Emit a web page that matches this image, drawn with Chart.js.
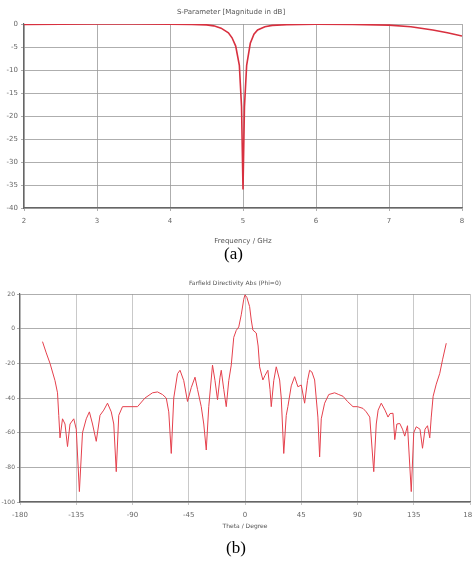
<!DOCTYPE html>
<html>
<head>
<meta charset="utf-8">
<script src="https://cdn.jsdelivr.net/npm/chart.js@4/dist/chart.umd.min.js"></script>
<style>
  html, body { margin: 0; padding: 0; background: #fff; width: 472px; height: 562px; overflow: hidden; }
  .box { position: absolute; left: 0; width: 472px; }
  #boxA { top: 0; height: 245px; }
  #boxB { top: 268px; height: 262px; }
  .cap { position: absolute; font-family: "Liberation Serif", "DejaVu Serif", serif; font-size: 17px; color: #000; }
</style>
</head>
<body>
<div class="box" id="boxA"><canvas id="chartA" width="472" height="245"></canvas></div>
<div class="cap" style="left:224px; top:244px;">(a)</div>
<div class="box" id="boxB"><canvas id="chartB" width="472" height="262"></canvas></div>
<div class="cap" style="left:226px; top:538px;">(b)</div>
<script>
// ---- Chart (a): S-parameter magnitude ----
const freqGHz = [2.0, 2.5, 3.0, 3.5, 4.0, 4.3, 4.5, 4.6, 4.7, 4.8, 4.85, 4.9, 4.95, 4.98, 5.0, 5.02, 5.05, 5.1, 5.15, 5.2, 5.3, 5.4, 5.6, 6.0, 6.5, 7.0, 7.3, 7.6, 7.8, 8.0];
const s11dB   = [-0.1, -0.05, 0, 0, -0.05, -0.1, -0.2, -0.4, -0.9, -1.9, -3.0, -4.8, -9.0, -18, -36, -18, -9.0, -4.2, -2.2, -1.3, -0.6, -0.3, -0.15, -0.05, -0.1, -0.25, -0.6, -1.3, -1.9, -2.6];
const freqTicks = [2, 3, 4, 5, 6, 7, 8];
const s11Ticks = [0, -5, -10, -15, -20, -25, -30, -35, -40];

// ---- Chart (b): farfield directivity ----
const thetaDeg = [-162, -159, -156, -152, -150, -149, -148, -146, -144, -142, -140, -137, -135, -132.5, -130, -127, -124.5, -122, -119, -116, -113, -110, -107, -105, -103, -101, -98, -92, -86, -80, -74, -70, -66, -63, -61, -59, -57, -54, -52, -49, -46, -43, -40, -38, -35, -33, -31, -29, -26, -24, -22, -20, -19, -17, -15, -13, -11, -9, -7, -5, -3, -1, 0, 1.5, 3.7, 5, 6.3, 9, 10.5, 11.7, 14.3, 16, 18.3, 20, 21, 23, 25, 27.7, 29, 31, 33, 34.3, 37, 39.7, 42.3, 45, 47.7, 50, 51.7, 53.5, 55.7, 58.3, 59.7, 61, 63.7, 67, 71.7, 75, 78.4, 82, 86.4, 90, 94.4, 97, 99.8, 103, 105, 106.5, 109, 112, 114.4, 116, 118.4, 119.8, 121.5, 123.8, 126, 127.8, 130, 133, 135, 137, 140, 142, 144, 146, 147.8, 149, 150.5, 153, 155.8, 158, 161];
const dirdBi   = [-7.5, -14, -20, -30, -37, -50, -63, -52, -55, -68, -55, -52, -58, -94, -60, -52, -48, -55, -65, -50, -47, -43, -48, -55, -82.5, -50, -45, -45, -45, -40, -37, -36.5, -38, -40, -48, -72, -40, -26, -24, -30, -42, -34, -28, -35, -45, -55, -70, -45, -21, -30, -41, -28, -24, -35, -45, -30, -21, -5, -1, 1, 8, 17, 19.5, 18, 12.7, 5, -0.8, -2.5, -10, -22, -29.6, -27, -24, -35, -45, -30, -22, -29.6, -40, -72, -50, -45, -33, -27.7, -33.5, -32.5, -43, -30, -24, -25, -29.6, -51, -74, -52, -43, -38, -37, -38, -39, -42, -45, -45, -46, -48, -51, -82.5, -55, -47, -43, -47, -51, -49, -48.8, -64, -55, -54.7, -58, -62, -56, -94, -60, -56.6, -58, -69, -58, -56, -63, -51, -39, -32, -25.8, -18, -8.4];
const thetaTicks = [-180, -135, -90, -45, 0, 45, 90, 135, 180];
const dirTicks = [20, 0, -20, -40, -60, -80, -100];

const tickFont = { family: "DejaVu Sans", size: 7 };
const tickColor = '#666';

const chartA = new Chart(document.getElementById('chartA'), {
  type: 'line',
  data: {
    datasets: [{
      data: freqGHz.map((f, i) => ({ x: f, y: s11dB[i] })),
      borderColor: '#d8303f',
      borderWidth: 1.6,
      pointRadius: 0,
      tension: 0,
      fill: false
    }]
  },
  options: {
    responsive: false,
    animation: false,
    events: [],
    layout: { padding: { left: 0, right: 10, top: 0, bottom: 0 } },
    plugins: {
      legend: { display: false },
      tooltip: { enabled: false },
      title: {
        display: true,
        text: 'S-Parameter [Magnitude in dB]',
        color: '#555',
        font: { family: "DejaVu Sans", size: 7, weight: 'normal' },
        padding: { top: 8, bottom: 7.6 }
      }
    },
    scales: {
      x: {
        type: 'linear', min: 2, max: 8,
        afterBuildTicks: (s) => { s.ticks = freqTicks.map(v => ({ value: v })); },
        afterFit: (s) => { s.height = 37; },
        ticks: { font: tickFont, color: tickColor, padding: 6 },
        grid: { color: '#999', lineWidth: 0.8, drawTicks: true, tickLength: 3 },
        border: { color: '#666', width: 1.2 },
        title: { display: true, text: 'Frequency / GHz', color: '#555', font: tickFont, padding: { top: 0, bottom: 0 } }
      },
      y: {
        type: 'linear', min: -40, max: 0,
        afterBuildTicks: (s) => { s.ticks = s11Ticks.map(v => ({ value: v })); },
        afterFit: (s) => { s.width = 24; },
        ticks: { font: tickFont, color: tickColor, padding: 3 },
        grid: { color: '#999', lineWidth: 0.8, tickLength: 3 },
        border: { color: '#666', width: 1.2 }
      }
    }
  }
});

const chartB = new Chart(document.getElementById('chartB'), {
  type: 'line',
  data: {
    datasets: [{
      data: thetaDeg.map((t, i) => ({ x: t, y: dirdBi[i] })),
      borderColor: '#e5404c',
      borderWidth: 1,
      pointRadius: 0,
      tension: 0,
      fill: false
    }]
  },
  options: {
    responsive: false,
    animation: false,
    events: [],
    layout: { padding: { left: 0, right: 2, top: 0, bottom: 0 } },
    plugins: {
      legend: { display: false },
      tooltip: { enabled: false },
      title: {
        display: true,
        text: 'Farfield Directivity Abs (Phi=0)',
        color: '#555',
        font: { family: "DejaVu Sans", size: 6, weight: 'normal' },
        padding: { top: 12, bottom: 6.8 }
      }
    },
    scales: {
      x: {
        type: 'linear', min: -180, max: 180,
        afterBuildTicks: (s) => { s.ticks = thetaTicks.map(v => ({ value: v })); },
        afterFit: (s) => { s.height = 28; s.paddingRight = 0; s.paddingLeft = 0; },
        ticks: { font: tickFont, color: tickColor, padding: 6 },
        grid: { color: '#bbb', lineWidth: 0.8, tickLength: 3 },
        border: { color: '#666', width: 1.2 },
        title: { display: true, text: 'Theta / Degree', color: '#555', font: { family: "DejaVu Sans", size: 6 }, padding: { top: 0, bottom: 0 } }
      },
      y: {
        type: 'linear', min: -100, max: 20,
        afterBuildTicks: (s) => { s.ticks = dirTicks.map(v => ({ value: v })); },
        afterFit: (s) => { s.width = 20; },
        ticks: { font: { family: "DejaVu Sans", size: 6 }, color: tickColor, padding: 2 },
        grid: { color: '#999', lineWidth: 0.8, tickLength: 3 },
        border: { color: '#666', width: 1.2 }
      }
    }
  }
});
</script>
</body>
</html>
